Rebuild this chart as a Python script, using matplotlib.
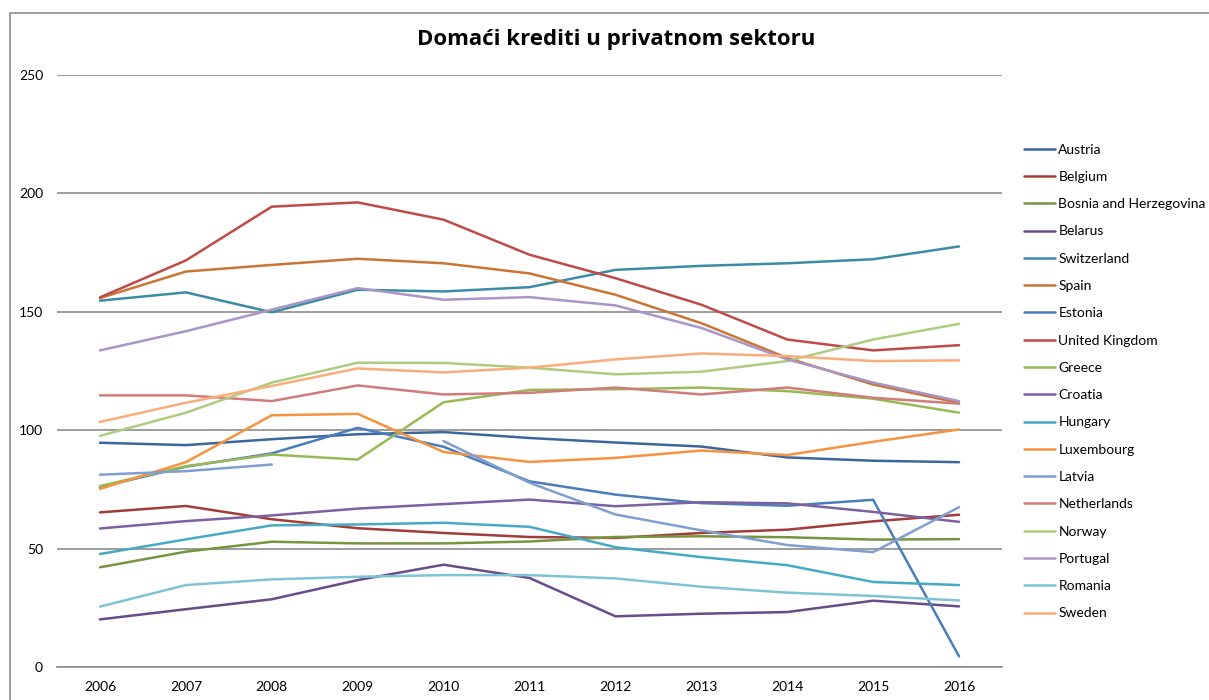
import numpy as np
import matplotlib
matplotlib.use("Agg")
import matplotlib.pyplot as plt
from matplotlib.patches import Rectangle

plt.rcParams['font.family'] = ['Lato', 'DejaVu Sans']

years = [2006, 2007, 2008, 2009, 2010, 2011, 2012, 2013, 2014, 2015, 2016]

austria = [94.7, 93.7, 96.2, 98.3, 99.2, 96.7, 94.8, 93.1, 88.5, 87.1, 86.5]
belgium = [65.3, 68.0, 62.4, 58.6, 56.6, 54.9, 54.5, 56.6, 58.0, 61.5, 64.3]
bosnia = [42.1, 48.7, 52.9, 52.2, 52.2, 53.0, 54.9, 55.2, 54.8, 53.8, 54.0]
belarus = [20.1, 24.4, 28.6, 36.7, 43.2, 37.6, 21.4, 22.5, 23.2, 28.0, 25.6]
switzerland = [154.7, 158.2, 149.8, 159.3, 158.6, 160.4, 167.7, 169.4, 170.5, 172.2, 177.6]
spain = [155.8, 167.0, 169.8, 172.4, 170.5, 166.2, 157.2, 145.2, 130.5, 119.3, 111.5]
estonia = [76.0, 84.6, 90.2, 101.0, 93.0, 78.4, 72.8, 69.2, 68.1, 70.6, 4.5]
uk = [156.1, 171.7, 194.4, 196.2, 188.9, 174.1, 164.2, 153.0, 138.3, 133.7, 135.9]
greece = [76.4, 84.8, 89.7, 87.6, 111.8, 117.0, 117.3, 118.0, 116.5, 113.3, 107.4]
croatia = [58.5, 61.6, 64.0, 66.9, 68.8, 70.7, 67.9, 69.6, 69.1, 65.5, 61.3]
hungary = [47.7, 53.9, 59.8, 60.2, 60.9, 59.2, 50.6, 46.4, 43.0, 35.9, 34.6]
luxembourg = [75.2, 86.5, 106.3, 106.9, 90.8, 86.6, 88.3, 91.4, 89.5, 95.1, 100.3]
latvia = [81.2, 82.7, 85.5, np.nan, 95.4, 77.8, 64.4, 57.7, 51.5, 48.5, 67.5]
netherlands = [114.7, 114.7, 112.3, 118.9, 115.1, 115.8, 118.0, 115.1, 118.0, 113.7, 111.2]
norway = [97.6, 107.4, 120.1, 128.5, 128.4, 126.4, 123.6, 124.7, 129.2, 138.3, 144.9]
portugal = [133.7, 141.8, 150.9, 160.0, 155.1, 156.2, 152.7, 143.2, 129.9, 120.1, 112.3]
romania = [25.5, 34.6, 37.0, 38.1, 38.8, 38.8, 37.4, 33.9, 31.4, 30.0, 28.1]
sweden = [103.5, 111.6, 118.7, 126.1, 124.4, 126.4, 129.9, 132.4, 131.3, 129.2, 129.5]

countries = ['Austria', 'Belgium', 'Bosnia and Herzegovina', 'Belarus', 'Switzerland',
             'Spain', 'Estonia', 'United Kingdom', 'Greece', 'Croatia', 'Hungary',
             'Luxembourg', 'Latvia', 'Netherlands', 'Norway', 'Portugal', 'Romania',
             'Sweden']
series = [austria, belgium, bosnia, belarus, switzerland, spain, estonia, uk, greece,
          croatia, hungary, luxembourg, latvia, netherlands, norway, portugal, romania,
          sweden]
colors = ['#3C679E', '#A23C39', '#77943F', '#664D88', '#3A8CA5', '#C97534',
          '#4A7EBB', '#BE4B48', '#98B954', '#7D60A0', '#46AAC5', '#F69240',
          '#7F9FD0', '#CF7C7A', '#AFCB80', '#A995C6', '#7FC3D6', '#F9AD7A']

fig = plt.figure(figsize=(12.09, 7.0), dpi=100)
ax = fig.add_axes([57/1209, 33/700, 945/1209, 592/700])

for name, vals, c in zip(countries, series, colors):
    ax.plot(years, vals, color=c, lw=1.8, label=name, solid_capstyle='round')

ax.set_xlim(2005.5, 2016.5)
ax.set_ylim(0, 250)
ax.set_yticks([0, 50, 100, 150, 200, 250])
ax.set_xticks(years)
ax.grid(True, axis='y', color='#8C8C8C', lw=1.2)
ax.set_axisbelow(True)
for s in ['top', 'right', 'left']:
    ax.spines[s].set_visible(False)
ax.spines['bottom'].set_color('#8C8C8C')
ax.spines['bottom'].set_linewidth(1.2)
ax.tick_params(axis='both', length=0, labelsize=10, colors='black')
ax.tick_params(axis='y', pad=10)
ax.tick_params(axis='x', pad=10)

fig.text(0.510, 1 - 40/700, 'Domaći krediti u privatnom sektoru', ha='center',
         va='center', fontsize=16, fontweight='bold', family='Open Sans')

ax.legend(loc='center left', bbox_to_anchor=(1024/1209, (700-381.5)/700),
          bbox_transform=fig.transFigure, frameon=False, fontsize=10,
          handlelength=2.25, handletextpad=0.22, labelspacing=1.1,
          borderpad=0, borderaxespad=0)

# chart outer border (only top and left visible)
fig.patches.append(Rectangle((10/1209, -0.1), 1.2, 1 - 13/700 + 0.1,
                             transform=fig.transFigure, fill=False,
                             edgecolor='#8C8C8C', lw=1.2))

fig.savefig('out.png', dpi=100)
